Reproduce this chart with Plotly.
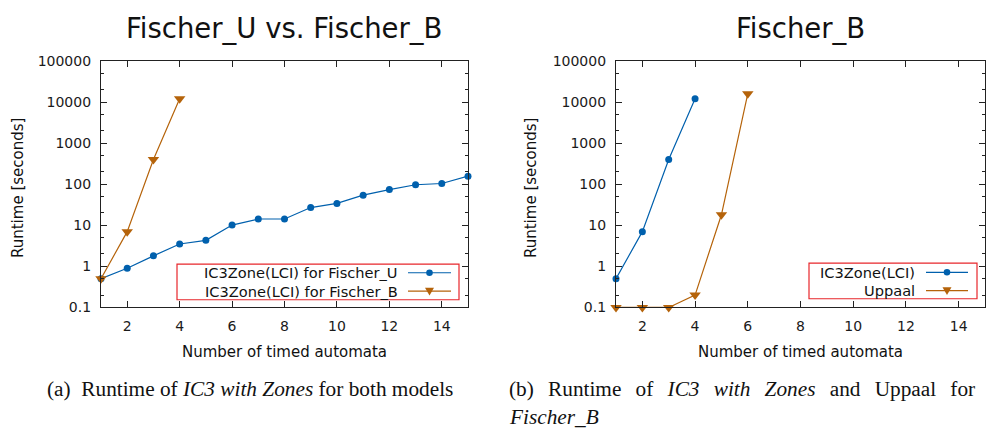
import plotly.graph_objects as go

# ---- data -------------------------------------------------------------
n_automata = list(range(1, 16))
fischer_u_ic3 = [0.5, 0.9, 1.8, 3.5, 4.3, 10.1, 14.2, 14.2, 27, 34, 54, 74, 97, 104, 157]

n_automata_b = [1, 2, 3, 4]
fischer_b_ic3 = [0.5, 7, 400, 12000]

n_automata_uppaal = [1, 2, 3, 4, 5, 6]
fischer_b_uppaal = [0.1, 0.1, 0.1, 0.2, 18, 16000]

x_ticks = [2, 4, 6, 8, 10, 12, 14]
y_ticks = [0.1, 1, 10, 100, 1000, 10000, 100000]
y_tick_text = ["0.1", "1", "10", "100", "1000", "10000", "100000"]

BLUE = "#0060ad"
BROWN = "#b5630a"
W, H = 988, 430

fig = go.Figure()


def px(x):
    return x / W


def py(y):
    return 1 - y / H


def add_series(x, y, color, symbol, size, xa, ya):
    fig.add_trace(go.Scatter(
        x=x, y=y, mode="lines+markers", xaxis=xa, yaxis=ya,
        line=dict(color=color, width=1.2),
        marker=dict(color=color, symbol=symbol, size=size),
        cliponaxis=False, showlegend=False,
    ))


# left panel
add_series(n_automata, fischer_u_ic3, BLUE, "circle", 7, "x", "y")
add_series(n_automata_b, fischer_b_ic3, BROWN, "triangle-down", 10, "x", "y")
# right panel
add_series(n_automata_b, fischer_b_ic3, BLUE, "circle", 7, "x2", "y2")
add_series(n_automata_uppaal, fischer_b_uppaal, BROWN, "triangle-down", 10, "x2", "y2")

tick_font = dict(family="DejaVu Sans", size=14, color="#1a1a1a")

xaxis_common = dict(
    range=[1, 15], tickmode="array", tickvals=x_ticks,
    ticks="inside", ticklen=6, tickwidth=1, tickcolor="#222",
    showline=True, linecolor="#222", linewidth=1.2, mirror="ticks",
    showgrid=False, zeroline=False, tickfont=tick_font,
    ticklabelstandoff=6,
)
yaxis_common = dict(
    type="log", range=[-1, 5], tickmode="array", tickvals=y_ticks,
    ticktext=y_tick_text,
    ticks="inside", ticklen=6, tickwidth=1, tickcolor="#222",
    minor=dict(ticks="inside", ticklen=3, dtick="D2", tickcolor="#222", showgrid=False),
    showline=True, linecolor="#222", linewidth=1.2, mirror="ticks",
    showgrid=False, zeroline=False, tickfont=tick_font,
    ticklabelstandoff=6,
)

y_dom = [py(311), py(55)]
fig.update_layout(
    width=W, height=H,
    margin=dict(l=0, r=0, t=0, b=0),
    paper_bgcolor="white", plot_bgcolor="white",
    xaxis=dict(domain=[px(101), px(468)], anchor="y", **xaxis_common),
    yaxis=dict(domain=y_dom, anchor="x", **yaxis_common),
    xaxis2=dict(domain=[px(616), px(985)], anchor="y2", **xaxis_common),
    yaxis2=dict(domain=y_dom, anchor="x2", **yaxis_common),
    showlegend=False,
)

annotations = []
shapes = []


def text(x, y, s, size, family="DejaVu Sans", xanchor="center", angle=0, color="#111"):
    annotations.append(dict(
        x=px(x), y=py(y), xref="paper", yref="paper", text=s, showarrow=False,
        xanchor=xanchor, yanchor="middle", textangle=angle,
        font=dict(family=family, size=size, color=color),
    ))


# panel titles
text(284, 21, "Fischer_U vs. Fischer_B", 27.5)
text(800, 21, "Fischer_B", 27.5)
# axis titles
text(18, 187, "Runtime [seconds]", 15, angle=-90)
text(531, 187, "Runtime [seconds]", 15, angle=-90)
text(284, 357, "Number of timed automata", 15)
text(800, 357, "Number of timed automata", 15)
# captions (second one is set justified with wider word gaps)
serif = "Liberation Serif"
gap = " \u2004\u200a"
text(45, 396, "(a)  Runtime of <i>IC3 with Zones</i> for both models", 21.3, family=serif, xanchor="left")
caption_b = gap.join(["(b)", "Runtime", "of", "<i>IC3", "with", "Zones</i>", "and", "Uppaal", "for"])
text(507, 396, caption_b, 21.3, family=serif, xanchor="left")
text(507, 425, "<i>Fischer_B</i>", 21.3, family=serif, xanchor="left")


def legend(box, entries, text_right, line_x0, line_x1):
    x0, y0, x1, y1 = box
    shapes.append(dict(type="rect", xref="paper", yref="paper",
                       x0=px(x0), x1=px(x1), y0=py(y1), y1=py(y0),
                       line=dict(color="#e8262b", width=1.2), fillcolor="white", layer="above"))
    for label, color, symbol, ry in entries:
        text(text_right, ry, label, 14.6, xanchor="right")
        shapes.append(dict(type="line", xref="paper", yref="paper",
                           x0=px(line_x0), x1=px(line_x1), y0=py(ry), y1=py(ry),
                           line=dict(color=color, width=1.2), layer="above"))
        mx = (line_x0 + line_x1) / 2
        if symbol == "circle":
            r = 3.3
            shapes.append(dict(type="circle", xref="paper", yref="paper",
                               x0=px(mx - r), x1=px(mx + r), y0=py(ry + r), y1=py(ry - r),
                               fillcolor=color, line=dict(color=color, width=0), layer="above"))
        else:
            path = "M {} {} L {} {} L {} {} Z".format(
                px(mx - 4.5), py(ry - 3.5), px(mx + 4.5), py(ry - 3.5), px(mx), py(ry + 4.5))
            shapes.append(dict(type="path", xref="paper", yref="paper", path=path,
                               fillcolor=color, line=dict(color=color, width=0), layer="above"))


legend((177, 266, 459, 303),
       [("IC3Zone(LCI) for Fischer_U", BLUE, "circle", 275),
        ("IC3Zone(LCI) for Fischer_B", BROWN, "triangle", 294)],
       400, 408, 451)
legend((809, 265, 977, 302),
       [("IC3Zone(LCI)", BLUE, "circle", 274.5),
        ("Uppaal", BROWN, "triangle", 293.5)],
       917, 926, 968)

fig.update_layout(annotations=annotations, shapes=shapes)
fig.write_html("out.html")
